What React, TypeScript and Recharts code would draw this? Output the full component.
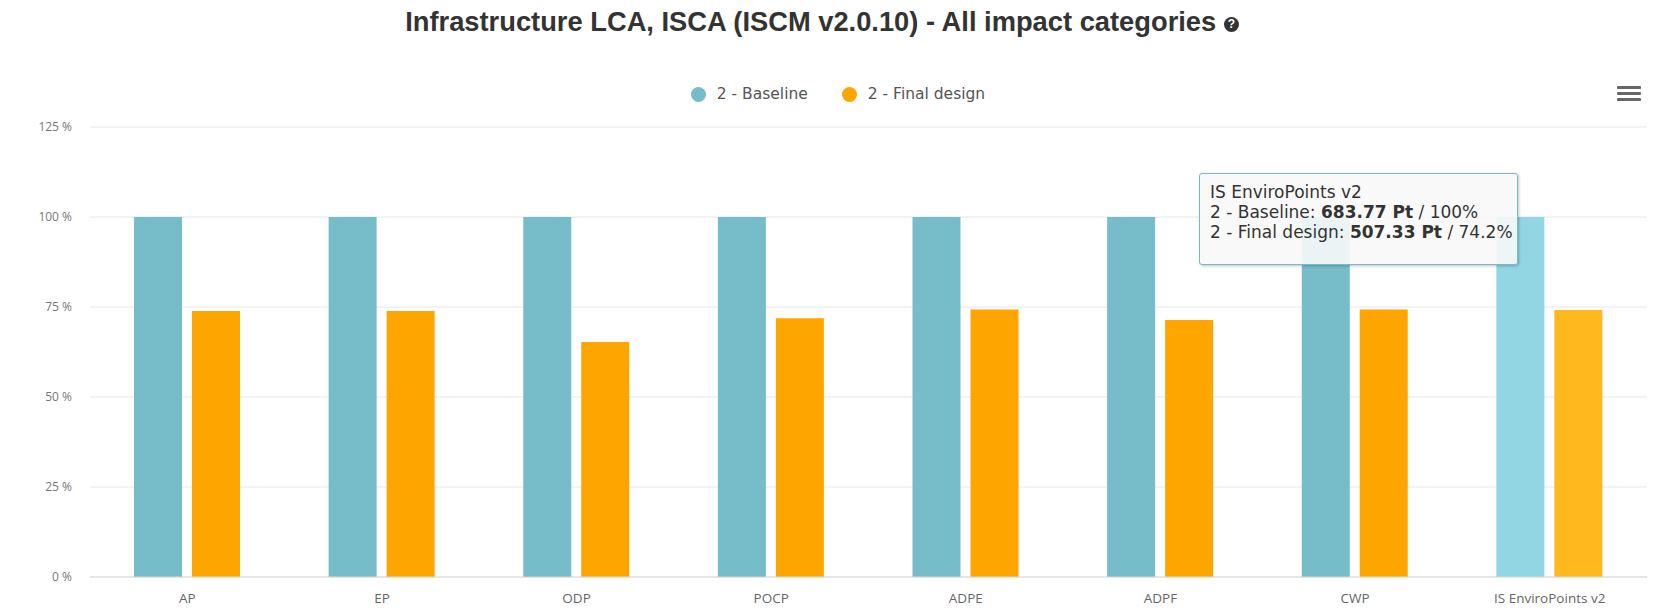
import React from 'react';
import { Bar, BarChart, CartesianGrid, XAxis, YAxis, Tooltip, Legend, Cell } from 'recharts';

const categories = ['AP', 'EP', 'ODP', 'POCP', 'ADPE', 'ADPF', 'CWP', 'IS EnviroPoints v2'];
const baselinePct = [100, 100, 100, 100, 100, 100, 100, 100];
const finalDesignPct = [73.9, 73.9, 65.3, 71.9, 74.3, 71.4, 74.3, 74.2];
const yTicks = [0, 25, 50, 75, 100, 125];

// tooltip values shown for the hovered category
const baselinePoints = 683.77;
const finalPoints = 507.33;

const BASE = '#76bcc9';
const BASE_HOVER = '#92d6e4';
const FINAL = '#ffa500';
const FINAL_HOVER = '#ffb81e';
const hoverIndex = 7;

const data = categories.map((name, i) => ({
  name,
  baseline: baselinePct[i],
  final: finalDesignPct[i],
}));

const LegendContent = () => (
  <div
    style={{
      display: 'flex',
      justifyContent: 'center',
      gap: 34,
      fontFamily: '"DejaVu Sans", sans-serif',
      fontSize: 15.5,
      color: '#555',
      paddingLeft: 12,
    }}
  >
    <div style={{ display: 'flex', alignItems: 'center', gap: 11 }}>
      <span style={{ width: 15, height: 15, borderRadius: 8, background: BASE, display: 'inline-block' }} />
      <span>2 - Baseline</span>
    </div>
    <div style={{ display: 'flex', alignItems: 'center', gap: 11 }}>
      <span style={{ width: 15, height: 15, borderRadius: 8, background: FINAL, display: 'inline-block' }} />
      <span>2 - Final design</span>
    </div>
  </div>
);

const TooltipContent = () => (
  <div
    style={{
      background: 'rgba(248,248,248,0.9)',
      border: `1px solid ${BASE}`,
      borderRadius: 3,
      padding: '8px 4px 22px 10px',
      fontFamily: '"DejaVu Sans", sans-serif',
      fontSize: 17,
      lineHeight: '20px',
      color: '#333',
      boxShadow: '1px 1px 3px rgba(0,0,0,0.25)',
      whiteSpace: 'nowrap',
    }}
  >
    <div>{categories[hoverIndex]}</div>
    <div>
      2 - Baseline: <b>{baselinePoints} Pt</b> / {baselinePct[hoverIndex]}%
    </div>
    <div>
      2 - Final design: <b>{finalPoints} Pt</b> / {finalDesignPct[hoverIndex]}%
    </div>
  </div>
);

export default function App() {
  return (
    <div style={{ position: 'absolute', left: 0, top: 0, width: 1664, height: 613, background: '#fff' }}>
      <div
        style={{
          position: 'absolute',
          top: 6,
          left: -10,
          width: 1664,
          textAlign: 'center',
          fontFamily: '"Liberation Sans", Arial, sans-serif',
          fontWeight: 'bold',
          fontSize: 27.3,
          color: '#333',
        }}
      >
        Infrastructure LCA, ISCA (ISCM v2.0.10) - All impact categories{' '}
        <span
          style={{
            display: 'inline-block',
            width: 15,
            height: 15,
            borderRadius: 8,
            background: '#333',
            color: '#fff',
            fontSize: 12,
            lineHeight: '15px',
            verticalAlign: 3,
          }}
        >
          ?
        </span>
      </div>

      {/* export menu icon */}
      <div style={{ position: 'absolute', left: 1617, top: 86 }}>
        {[0, 1, 2].map((i) => (
          <div key={i} style={{ width: 24, height: 3, background: '#666', marginBottom: 3, borderRadius: 1 }} />
        ))}
      </div>

      <BarChart
        width={1664}
        height={613}
        data={data}
        margin={{ top: 127, right: 17, bottom: 0, left: 0 }}
        barSize={48}
        barGap={10}
      >
        <CartesianGrid vertical={false} stroke="#e6e6e6" />
        <XAxis
          dataKey="name"
          height={36}
          tickLine={false}
          axisLine={{ stroke: '#d8d8d8' }}
          tickMargin={10}
          tick={{ fill: '#666', fontSize: 13.5, fontFamily: '"Open Sans", sans-serif' }}
        />
        <YAxis
          width={90}
          domain={[0, 125]}
          ticks={yTicks}
          tickFormatter={(v) => `${v} %`}
          axisLine={false}
          tickLine={false}
          tickMargin={12}
          tick={{ fill: '#777', fontSize: 12, fontFamily: '"Open Sans", sans-serif' }}
        />
        <Legend
          layout="vertical"
          align="center"
          verticalAlign="middle"
          wrapperStyle={{ top: 85, left: 0, width: 1664 }}
          content={<LegendContent />}
        />
        <Tooltip
          active
          defaultIndex={hoverIndex}
          cursor={false}
          isAnimationActive={false}
          position={{ x: 1199, y: 173 }}
          content={<TooltipContent />}
        />
        <Bar dataKey="baseline" name="2 - Baseline" fill={BASE} isAnimationActive={false}>
          {data.map((d, i) => (
            <Cell key={`b-${i}`} fill={i === hoverIndex ? BASE_HOVER : BASE} />
          ))}
        </Bar>
        <Bar dataKey="final" name="2 - Final design" fill={FINAL} isAnimationActive={false}>
          {data.map((d, i) => (
            <Cell key={`f-${i}`} fill={i === hoverIndex ? FINAL_HOVER : FINAL} />
          ))}
        </Bar>
      </BarChart>
    </div>
  );
}
